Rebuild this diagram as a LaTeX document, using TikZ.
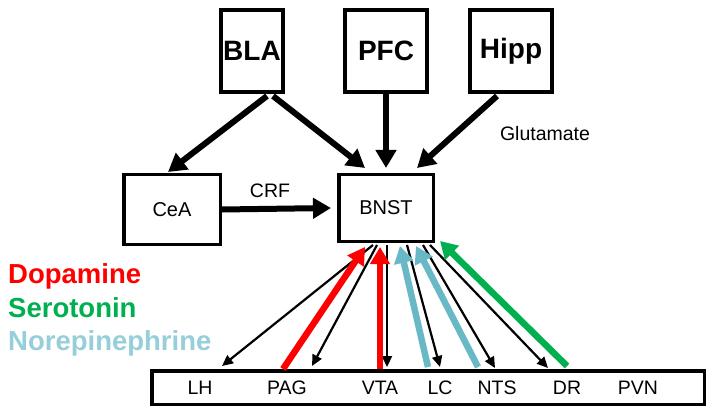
\documentclass[tikz,border=0pt]{standalone}
\usepackage{fontspec}
\setmainfont{Liberation Sans}
\usetikzlibrary{arrows.meta}
\definecolor{dopa}{RGB}{255,0,0}
\definecolor{sero}{RGB}{0,176,80}
\definecolor{noretext}{RGB}{150,206,218}
\definecolor{norearrow}{RGB}{105,184,197}
\begin{document}
\begin{tikzpicture}[x=1pt,y=-1pt,
  bigbox/.style={draw, line width=4pt, inner sep=0pt, minimum height=82pt,
    font=\fontsize{28}{30}\selectfont\bfseries},
  smallbox/.style={draw, line width=3.5pt, inner sep=0pt,
    font=\fontsize{20}{22}\selectfont},
  lbl/.style={inner sep=0pt, font=\fontsize{19.5}{22}\selectfont},
  legend/.style={inner sep=0pt, anchor=base west, font=\fontsize{27.5}{30}\selectfont\bfseries},
  bigarrow/.style={line width=6pt, -{Triangle[length=18pt,width=20pt]}},
  colarrow/.style={line width=6.5pt, -{Triangle[length=17pt,width=19pt]}},
  thinarrow/.style={line width=2.2pt, -{Triangle[length=11pt,width=10pt]}}]
\useasboundingbox (0,0) rectangle (714,414);

% boxes
\node[bigbox, minimum width=62pt] (BLA) at (252,51) {BLA};
\node[bigbox, minimum width=82pt] (PFC) at (386,51) {PFC};
\node[bigbox, minimum width=82pt] (Hipp) at (511,51) {Hipp};
\node[smallbox, minimum width=96.5pt, minimum height=69.5pt] (CeA) at (172,209.5) {CeA};
\node[smallbox, minimum width=94.5pt, minimum height=66.5pt] (BNST) at (386,208) {BNST};
\node[draw, line width=3.5pt, minimum width=552.5pt, minimum height=33.5pt, inner sep=0pt] (targets) at (428,387.5) {};

% target labels
\node[lbl] (LH) at (200,388) {LH};
\node[lbl] (PAG) at (287,388) {PAG};
\node[lbl] (VTA) at (380,388) {VTA};
\node[lbl] (LC) at (440,388) {LC};
\node[lbl] (NTS) at (497,388) {NTS};
\node[lbl] (DR) at (567,388) {DR};
\node[lbl] (PVN) at (638,388) {PVN};

% other labels
\node[lbl] (crf) at (270,191) {CRF};
\node[lbl] (glu) at (545,134) {Glutamate};
\node[legend, text=dopa] (dop) at (8,283) {Dopamine};
\node[legend, text=sero] (ser) at (8,317) {Serotonin};
\node[legend, text=noretext] (nor) at (8,350) {Norepinephrine};

% top connector endpoints
\coordinate (blaA) at (267,96);
\coordinate (blaB) at (273,96);
\coordinate (ceaT) at (168,172);
\coordinate (bnstT1) at (365,168);
\coordinate (bnstT2) at (386,168);
\coordinate (bnstT3) at (417,168);
\coordinate (hippS) at (497,96);

\draw[bigarrow] (blaA) -- (ceaT);
\draw[bigarrow] (blaB) -- (bnstT1);
\draw[bigarrow] (PFC.south) -- (bnstT2);
\draw[bigarrow] (hippS) -- (bnstT3);
\draw[bigarrow] (CeA.east) -- ([xshift=-6pt]BNST.west);

% bottom connector endpoints
\coordinate (s1) at (373,245);
\coordinate (s2) at (377,245);
\coordinate (s3) at (387,245);
\coordinate (s4) at (407,245);
\coordinate (s5) at (423,245);
\coordinate (s6) at (430,245);
\coordinate (tLH) at (222,366);
\coordinate (tPAG) at (312,366);
\coordinate (tVTA) at (387,367);
\coordinate (tLC) at (440,367);
\coordinate (tNTS) at (495,368);
\coordinate (tDR) at (548,368);

\coordinate (rPAG) at (283,369);
\coordinate (rPAGe) at (365,247);
\coordinate (rVTA) at (380,369);
\coordinate (rVTAe) at (380,247);
\coordinate (n1) at (428,367);
\coordinate (n1e) at (400,246);
\coordinate (n2) at (478,367);
\coordinate (n2e) at (416,246);
\coordinate (g1) at (567,366);
\coordinate (g1e) at (440,241);

\draw[thinarrow] (s1) -- (tLH);
\draw[thinarrow] (s2) -- (tPAG);
\draw[thinarrow] (s3) -- (tVTA);
\draw[thinarrow] (s4) -- (tLC);
\draw[thinarrow] (s5) -- (tNTS);
\draw[thinarrow] (s6) -- (tDR);

\draw[colarrow, dopa] (rPAG) -- (rPAGe);
\draw[colarrow, dopa] (rVTA) -- (rVTAe);
\draw[colarrow, norearrow] (n1) -- (n1e);
\draw[colarrow, norearrow] (n2) -- (n2e);
\draw[colarrow, sero] (g1) -- (g1e);
\end{tikzpicture}
\end{document}
